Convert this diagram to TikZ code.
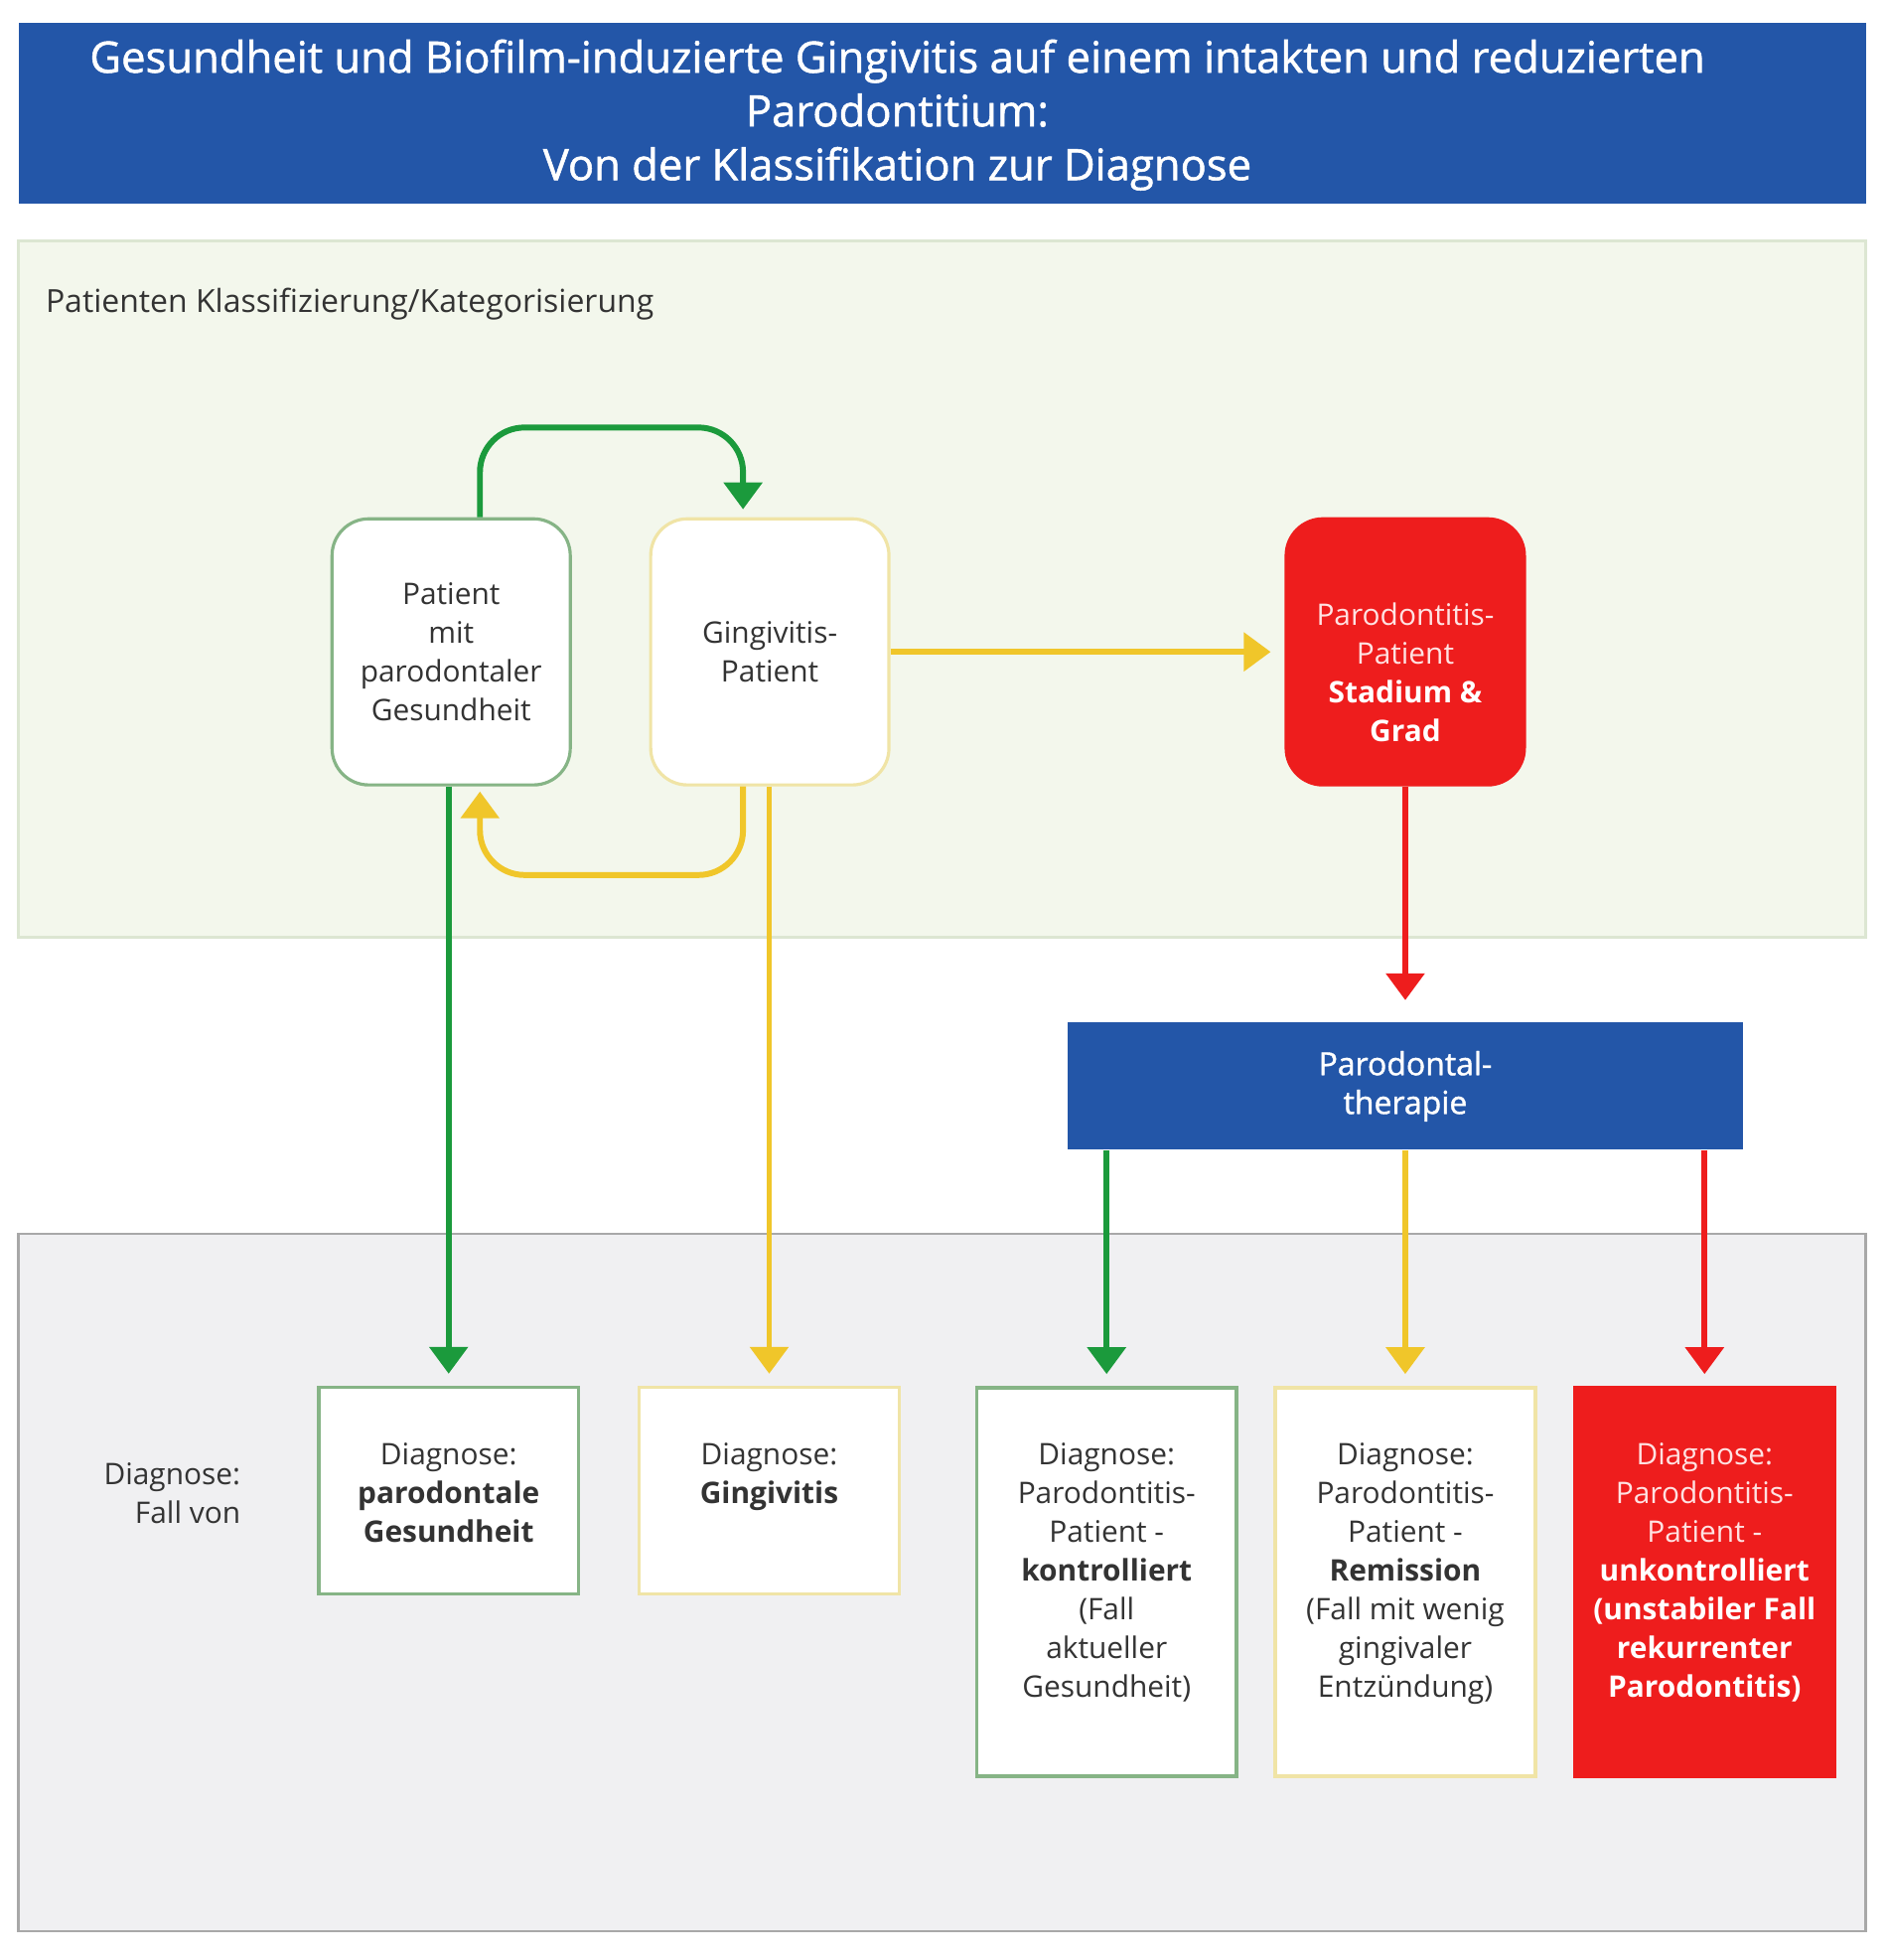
\documentclass[tikz,border=0pt]{standalone}
\usepackage{fontspec}
\setmainfont{Open Sans}
\newfontface\semibold[FakeBold=1.2]{Open Sans}
\usetikzlibrary{arrows.meta,positioning}
\definecolor{titleblue}{HTML}{2356A8}
\definecolor{okgreen}{HTML}{1B9A3C}
\definecolor{warnyellow}{HTML}{F0C62A}
\definecolor{alarmred}{HTML}{EE1D1D}
\definecolor{panelgreen}{HTML}{F3F7EC}
\definecolor{panelgreenline}{HTML}{DCE6D2}
\definecolor{panelgrey}{HTML}{F0F0F2}
\definecolor{panelgreyline}{HTML}{A8A8A8}
\definecolor{boxgreen}{HTML}{86B486}
\definecolor{boxyellow}{HTML}{F0E4A6}
\definecolor{textgrey}{HTML}{333333}
\definecolor{palered}{HTML}{FFE2E2}
\tikzset{
  smalltext/.style={font=\fontsize{8.5}{11.1}\selectfont},
  patbox/.style={draw, line width=0.9pt, rounded corners=0.37cm, fill=white,
    minimum width=2.4cm, minimum height=2.68cm, align=center, text=textgrey, smalltext},
  diagbox/.style={draw, line width=1pt, fill=white, minimum width=2.62cm},
  diagtext/.style={align=center, text=textgrey, smalltext, anchor=north, inner sep=0pt},
  flow/.style={line width=1.7pt, -{Triangle[width=0.38cm,length=0.27cm]}, rounded corners=0.45cm},
}
\begin{document}
\begin{tikzpicture}[x=0.012583cm, y=-0.012583cm]
  \useasboundingbox[fill=white] (0,0) rectangle (1510,1568);
  \fill[titleblue] (15,18) rectangle (1493,163);
  \node[text=white, align=center, font=\semibold\fontsize{12.4}{15.4}\selectfont] (title) at (718,92)
    {Gesundheit und Biofilm-induzierte Gingivitis auf einem intakten und reduzierten\\
     Parodontitium:\\Von der Klassifikation zur Diagnose};
  \draw[panelgreenline, fill=panelgreen, line width=0.8pt] (15,193) rectangle (1493,750);
  \draw[panelgreyline, fill=panelgrey, line width=0.8pt] (15,987) rectangle (1493,1545);
  \node[anchor=west, text=textgrey, font=\fontsize{9.1}{11}\selectfont, inner sep=0pt] (klass) at (36,243)
    {Patienten Klassifizierung/Kategorisierung};

  \node[patbox, draw=boxgreen] (pgz) at (361,521.5) {Patient\\mit\\parodontaler\\Gesundheit};
  \node[patbox, draw=boxyellow] (ging) at (616,521.5) {Gingivitis-\\Patient};
  \node[patbox, draw=alarmred, fill=alarmred] (paro) at (1124.5,521.5) {};
  \node[align=center, text=palered, smalltext, inner sep=0pt] (parotext) at (1124.5,538)
    {Parodontitis-\\Patient\\\textcolor{white}{\textbf{Stadium \&}}\\\textcolor{white}{\textbf{Grad}}};
  \node[fill=titleblue, minimum width=6.81cm, minimum height=1.28cm, align=center, text=white,
    font=\semibold\fontsize{9.1}{11.1}\selectfont] (thera) at (1124.5,869) {Parodontal-\\therapie};

  \node[anchor=east, align=right, text=textgrey, smalltext, inner sep=0pt] (fallvon) at (193,1195)
    {Diagnose:\\Fall von};
  \node[diagbox, draw=boxgreen, minimum height=2.08cm] (d1) at (359,1192.5) {};
  \node[diagbox, draw=boxyellow, minimum height=2.08cm] (d2) at (615.5,1192.5) {};
  \node[diagbox, draw=boxgreen, minimum height=3.91cm] (d3) at (885.5,1265.5) {};
  \node[diagbox, draw=boxyellow, minimum height=3.91cm] (d4) at (1124.5,1265.5) {};
  \node[diagbox, draw=alarmred, fill=alarmred, minimum height=3.91cm] (d5) at (1364,1265.5) {};
  \node[diagtext] (t1) at ([yshift=-0.57cm]d1.north) {Diagnose:\\\textbf{parodontale}\\\textbf{Gesundheit}};
  \node[diagtext] (t2) at ([yshift=-0.57cm]d2.north) {Diagnose:\\\textbf{Gingivitis}};
  \node[diagtext] (t3) at ([yshift=-0.57cm]d3.north)
    {Diagnose:\\Parodontitis-\\Patient -\\\textbf{kontrolliert}\\(Fall\\aktueller\\Gesundheit)};
  \node[diagtext] (t4) at ([yshift=-0.57cm]d4.north)
    {Diagnose:\\Parodontitis-\\Patient -\\\textbf{Remission}\\(Fall mit wenig\\gingivaler\\Entzündung)};
  \node[diagtext, text=palered] (t5) at ([yshift=-0.57cm]d5.north)
    {Diagnose:\\Parodontitis-\\Patient -\\\textcolor{white}{\textbf{unkontrolliert}}\\
     \textcolor{white}{\textbf{(unstabiler Fall}}\\\textcolor{white}{\textbf{rekurrenter}}\\
     \textcolor{white}{\textbf{Parodontitis)}}};

  \draw[flow, okgreen, shorten >=0.08cm] ([xshift=0.29cm]pgz.north) |- (490,342) -| ([xshift=-0.27cm]ging.north);
  \draw[flow, warnyellow, shorten >=0.05cm] ([xshift=-0.27cm]ging.south) |- (490,700) -| ([xshift=0.29cm]pgz.south);
  \draw[flow, warnyellow, shorten >=0.14cm] (ging.east) -- (paro.west);
  \draw[flow, okgreen, shorten >=0.12cm] (d1.north |- pgz.south) -- (d1.north);
  \draw[flow, warnyellow, shorten >=0.12cm] (d2.north |- ging.south) -- (d2.north);
  \draw[flow, alarmred, shorten >=0.22cm] (paro.south) -- (thera.north);
  \draw[flow, okgreen, shorten >=0.12cm] (d3.north |- thera.south) -- (d3.north);
  \draw[flow, warnyellow, shorten >=0.12cm] (d4.north |- thera.south) -- (d4.north);
  \draw[flow, alarmred, shorten >=0.12cm] (d5.north |- thera.south) -- (d5.north);
\end{tikzpicture}
\end{document}
